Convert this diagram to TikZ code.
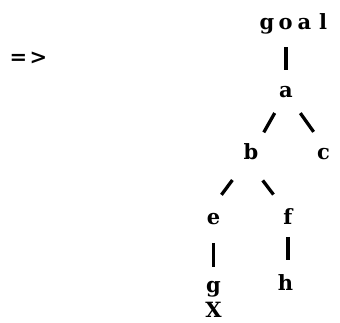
\documentclass[tikz,border=0pt]{standalone}
\usepackage{fontspec}
\newfontfamily\twfont{DejaVu Serif}
\begin{document}
\begin{tikzpicture}[x=1pt,y=-1pt,
  lbl/.style={font=\twfont\bfseries\fontsize{21}{21}\selectfont, inner sep=0pt, text height=10pt, text depth=0pt, anchor=base},
  conn/.style={line width=3.3pt}]
\useasboundingbox (0,0) rectangle (340,323);
\node[lbl] (arrow) at (28.5,65) {\makebox[20pt]{=}\makebox[20pt]{>}};
\node[lbl] (goal) at (295,30) {\makebox[18.7pt]{g}\makebox[18.7pt]{o}\makebox[18.7pt]{a}\makebox[18.7pt]{l}};
\node[lbl] (a) at (286,98) {a};
\node[lbl] (b) at (251,160) {b};
\node[lbl] (c) at (323.5,160) {c};
\node[lbl] (e) at (213.5,225) {e};
\node[lbl] (f) at (288,225) {f};
\node[lbl] (g) at (213.5,292) {g};
\node[lbl] (h) at (285.5,290) {h};
\node[lbl] (x) at (213.5,317) {X};
\draw[conn, shorten <=17pt, shorten >=23pt] (goal.south -| a) -- (a.center);
\draw[conn, shorten <=23pt, shorten >=26pt] (a.center) -- (b.center);
\draw[conn, shorten <=24.7pt, shorten >=28.4pt] (a.center) -- (c.east);
\draw[conn, shorten <=31.2pt, shorten >=24.9pt] (b.center) -- (e.north west);
\draw[conn, shorten <=31.9pt, shorten >=31.9pt] (b.west) -- (f.east);
\draw[conn, shorten <=23pt, shorten >=20pt] (e.center) -- (g.center);
\draw[conn, shorten <=17pt, shorten >=25pt] (f.center) -- (f |- h.center);
\end{tikzpicture}
\end{document}
